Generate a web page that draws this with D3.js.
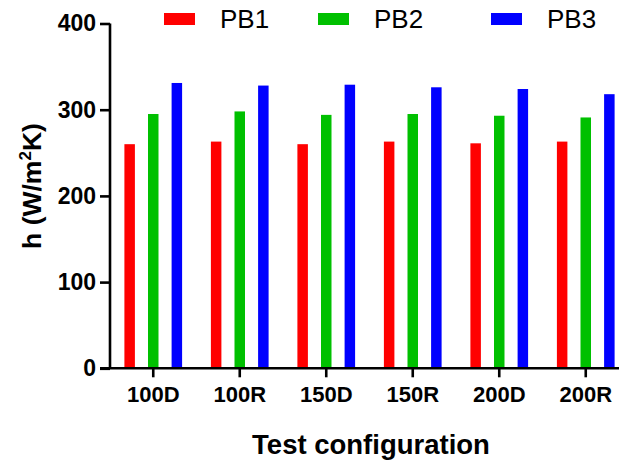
<!DOCTYPE html>
<html>
<head>
<meta charset="utf-8">
<script src="https://cdn.jsdelivr.net/npm/d3@7"></script>
<style>
  body { margin: 0; background: #fff; }
  svg { display: block; font-family: "Liberation Sans", Arial, sans-serif; }
</style>
</head>
<body>
<div id="chart"></div>
<script>
const configs = ['100D', '100R', '150D', '150R', '200D', '200R'];
const series = ['PB1', 'PB2', 'PB3'];
const pb1 = [260, 263, 260, 263, 261, 263];
const pb2 = [295, 298, 294, 295, 293, 291];
const pb3 = [331, 328, 329, 326, 324, 318];
const yTicks = [0, 100, 200, 300, 400];
const colors = ['#ff0000', '#00c000', '#0000ff'];

const values = [pb1, pb2, pb3];
const legendX = [164, 318, 491];

const W = 619, H = 463;
const svg = d3.select('#chart').append('svg').attr('width', W).attr('height', H);

const x = d3.scaleBand().domain(configs).range([110, 629]);
const x1 = d3.scaleBand().domain(series).range([-35.4, 35.4]);
const y = d3.scaleLinear().domain([0, 400]).range([368.3, 23.5]);
const barW = 10.5;

// bars
series.forEach((s, si) => {
    svg.append('g').selectAll('rect')
        .data(values[si])
        .enter().append('rect')
        .attr('x', (d, i) => x(configs[i]) + x.bandwidth() / 2 + x1(s) + x1.bandwidth() / 2 - barW / 2)
        .attr('y', d => y(d))
        .attr('width', barW)
        .attr('height', d => y(0) - y(d))
        .attr('fill', colors[si]);
});

// axes
const yAxis = svg.append('g').attr('transform', 'translate(110,0)')
    .call(d3.axisLeft(y).tickValues(yTicks).tickSize(10).tickPadding(4));
const xAxis = svg.append('g').attr('transform', `translate(0,${y(0)})`)
    .call(d3.axisBottom(x).tickSize(9).tickPadding(9));
[yAxis, xAxis].forEach(a => {
    a.select('.domain').attr('stroke', '#000').attr('stroke-width', 2.6);
    a.selectAll('.tick line').attr('stroke', '#000').attr('stroke-width', 2.6);
    a.selectAll('.tick text').attr('fill', '#000').attr('font-weight', 'bold')
        .attr('font-family', '"Liberation Sans", Arial, sans-serif');
});
yAxis.select('.domain').attr('d', `M0,${y(400)}V${y(0)}`);
xAxis.select('.domain').attr('d', 'M100,0H619');
yAxis.selectAll('.tick text').attr('font-size', 23);
xAxis.selectAll('.tick text').attr('font-size', 22);

// axis titles
svg.append('text')
    .attr('x', 371).attr('y', 454)
    .attr('text-anchor', 'middle')
    .attr('font-size', 27.5).attr('font-weight', 'bold')
    .text('Test configuration');

const yt = svg.append('text')
    .attr('transform', 'translate(41,186) rotate(-90)')
    .attr('text-anchor', 'middle')
    .attr('font-size', 26.5).attr('font-weight', 'bold');
yt.append('tspan').text('h (W/m');
yt.append('tspan').attr('font-size', 17).attr('dy', -10).text('2');
yt.append('tspan').attr('dy', 10).text('K)');

// legend
const lg = svg.append('g').selectAll('g')
    .data(series).enter().append('g')
    .attr('transform', (d, i) => `translate(${legendX[i]},0)`);
lg.append('rect').attr('x', 0).attr('y', 13).attr('width', 31).attr('height', 12)
    .attr('fill', (d, i) => colors[i]);
lg.append('text').attr('x', 56).attr('y', 28)
    .attr('font-size', 26).attr('fill', '#000')
    .text(d => d);
</script>
</body>
</html>
